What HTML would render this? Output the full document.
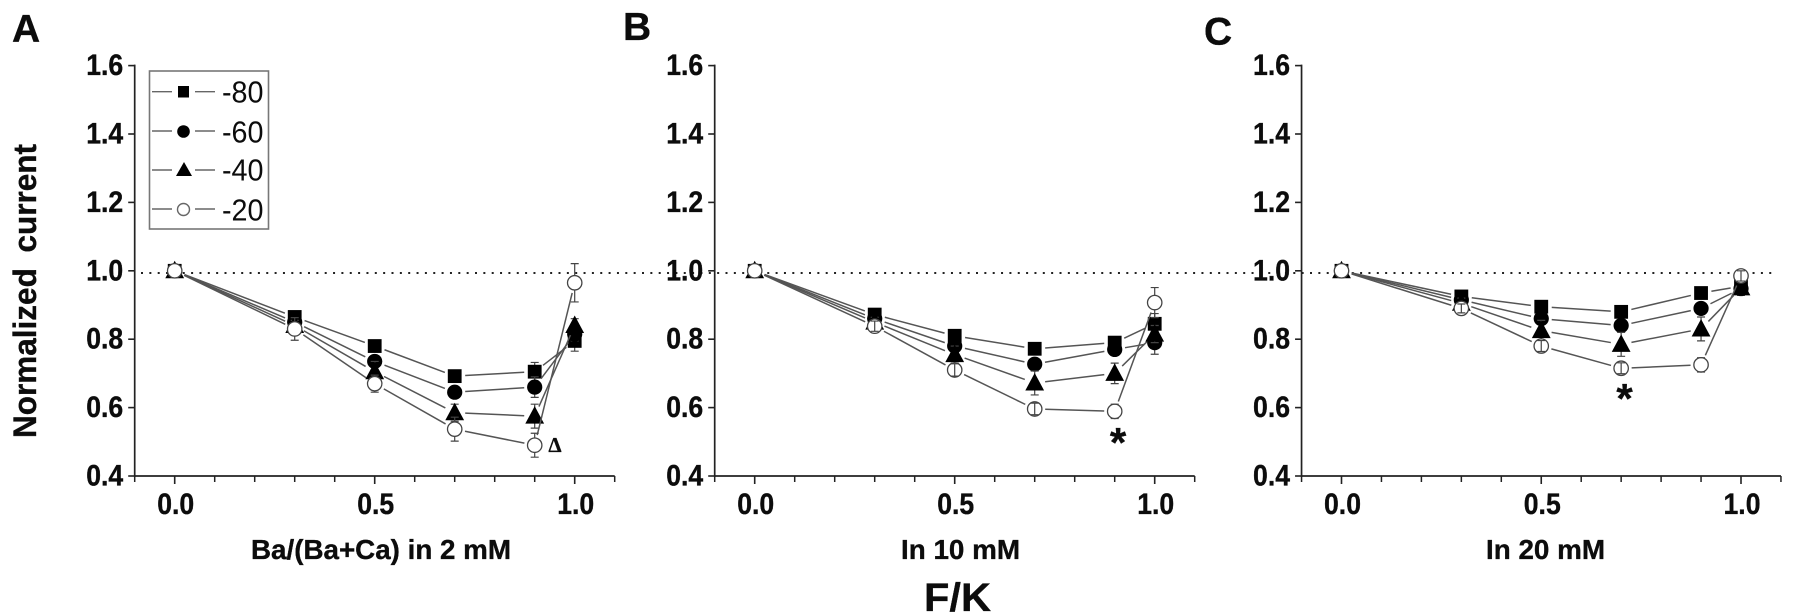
<!DOCTYPE html>
<html lang="en">
<head>
<meta charset="utf-8">
<title>Normalized current vs F/K</title>
<style>
html,body{margin:0;padding:0;background:#fff;width:1795px;height:614px;overflow:hidden}
svg{display:block;font-family:"Liberation Sans",Arial,sans-serif}
text{fill:#0c0c0c}
text[font-weight="700"]{stroke:#0c0c0c;stroke-width:.35px}
</style>
</head>
<body>
<svg id="figure" width="1795" height="614" viewBox="0 0 1795 614" xmlns="http://www.w3.org/2000/svg">
  <line x1="141" y1="273" x2="1772" y2="273" stroke="#222" stroke-width="2" stroke-dasharray="2 6.35"/>
  <g id="plots"></g>

  <text x="12" y="42" font-size="39" font-weight="700">A</text>
  <text x="623" y="40" font-size="39" font-weight="700">B</text>
  <text x="1204" y="44.5" font-size="39" font-weight="700">C</text>

  <text transform="translate(36 291) rotate(-90)" text-anchor="middle" font-size="32" font-weight="700" textLength="294" lengthAdjust="spacingAndGlyphs" style="word-spacing:7px">Normalized current</text>

  <text x="381" y="559" text-anchor="middle" font-size="28" font-weight="700" textLength="260" lengthAdjust="spacingAndGlyphs">Ba/(Ba+Ca) in 2 mM</text>
  <text x="960.5" y="559" text-anchor="middle" font-size="28" font-weight="700" textLength="119" lengthAdjust="spacingAndGlyphs">In 10 mM</text>
  <text x="1545.5" y="559" text-anchor="middle" font-size="28" font-weight="700" textLength="119" lengthAdjust="spacingAndGlyphs">In 20 mM</text>
  <text x="957.5" y="611" text-anchor="middle" font-size="40" font-weight="700" textLength="67" lengthAdjust="spacingAndGlyphs">F/K</text>

  <text x="555" y="452" text-anchor="middle" font-size="21" font-weight="700" style="font-family:'Liberation Serif',serif">Δ</text>
  <text x="1118" y="457" text-anchor="middle" font-size="42" font-weight="700">*</text>
  <text x="1624.5" y="413" text-anchor="middle" font-size="42" font-weight="700">*</text>

  <g>
    <rect x="149.5" y="71" width="119" height="158" fill="#fff" stroke="#777" stroke-width="1.6"/>
    <g>
      <path d="M152 91.7H172M195 91.7H215" stroke="#666" stroke-width="1.4"/>
      <rect x="178" y="86" width="11" height="11.5" fill="#000"/>
      <text x="222" y="102.7" font-size="31" textLength="41.5" lengthAdjust="spacingAndGlyphs">-80</text>
    </g>
    <g>
      <path d="M152 131H172M195 131H215" stroke="#666" stroke-width="1.4"/>
      <circle cx="183.5" cy="131.5" r="6.3" fill="#000"/>
      <text x="222" y="142.3" font-size="31" textLength="41.5" lengthAdjust="spacingAndGlyphs">-60</text>
    </g>
    <g>
      <path d="M184 162L192 176H176Z" fill="#000"/>
      <path d="M152 170H172M195 170H215" stroke="#666" stroke-width="1.4"/>
      <text x="222" y="180.7" font-size="31" textLength="41.5" lengthAdjust="spacingAndGlyphs">-40</text>
    </g>
    <g>
      <path d="M152 209H172M195 209H215" stroke="#666" stroke-width="1.4"/>
      <circle cx="183.5" cy="209.5" r="6" fill="#fff" stroke="#666" stroke-width="1.4"/>
      <text x="222" y="220.7" font-size="31" textLength="41.5" lengthAdjust="spacingAndGlyphs">-20</text>
    </g>
  </g>
</svg>
<script>
// Chart data
var xValues = [0, 0.3, 0.5, 0.7, 0.9, 1.0];
var yTickValues = [0.4, 0.6, 0.8, 1.0, 1.2, 1.4, 1.6];
var yTickLabels = ["0.4", "0.6", "0.8", "1.0", "1.2", "1.4", "1.6"];
var xMinorTicks = [-0.1, 0.1, 0.2, 0.3, 0.4, 0.6, 0.7, 0.8, 0.9, 1.1];
var xMajorTicks = [0, 0.5, 1.0];
var xTickLabels = ["0.0", "0.5", "1.0"];
var seriesNames = ["-80", "-60", "-40", "-20"];

var a80 = [1, 0.865, 0.78, 0.692, 0.705, 0.795];
var a60 = [1, 0.85, 0.735, 0.645, 0.66, 0.815];
var a40 = [1, 0.84, 0.705, 0.585, 0.575, 0.84];
var a20 = [1, 0.83, 0.67, 0.537, 0.49, 0.965];
var a80err = [0, 0.012, 0.012, 0.012, 0.027, 0.03];
var a60err = [0, 0.012, 0.015, 0.014, 0.03, 0.02];
var a40err = [0, 0.015, 0.03, 0.025, 0.035, 0.02];
var a20err = [0, 0.033, 0.025, 0.035, 0.035, 0.056];

var b80 = [1, 0.872, 0.81, 0.772, 0.79, 0.845];
var b60 = [1, 0.86, 0.78, 0.727, 0.77, 0.79];
var b40 = [1, 0.85, 0.755, 0.672, 0.70, 0.815];
var b20 = [1, 0.838, 0.71, 0.596, 0.589, 0.907];
var b80err = [0, 0.01, 0.012, 0.01, 0.012, 0.03];
var b60err = [0, 0.012, 0.012, 0.012, 0.012, 0.034];
var b40err = [0, 0.014, 0.025, 0.035, 0.03, 0.025];
var b20err = [0, 0.015, 0.018, 0.017, 0.021, 0.044];

var c80 = [1, 0.925, 0.895, 0.88, 0.935, 0.955];
var c60 = [1, 0.915, 0.86, 0.84, 0.89, 0.948];
var c40 = [1, 0.905, 0.825, 0.785, 0.83, 0.95];
var c20 = [1, 0.89, 0.78, 0.715, 0.725, 0.985];
var c80err = [0, 0.01, 0.012, 0.012, 0.012, 0.02];
var c60err = [0, 0.012, 0.012, 0.012, 0.012, 0.02];
var c40err = [0, 0.015, 0.03, 0.035, 0.035, 0.02];
var c20err = [0, 0.013, 0.016, 0.016, 0.021, 0.015];

var svgNS = "http://www.w3.org/2000/svg";
var plots = document.getElementById("plots");

function make(parent, tag, attrs) {
  var el = document.createElementNS(svgNS, tag);
  for (var k in attrs) el.setAttribute(k, attrs[k]);
  parent.appendChild(el);
  return el;
}

var yBottom = 476, yPerUnit = 342;
function yScale(v) { return yBottom - (v - 0.4) * yPerUnit; }

var kinds = ["square", "circle", "triangle", "open"];

function drawMarker(parent, kind, cx, cy) {
  var m;
  if (kind === "square") {
    m = make(parent, "rect", {x: cx - 6.9, y: cy - 6.9, width: 13.8, height: 13.8, fill: "#000"});
  } else if (kind === "circle") {
    m = make(parent, "circle", {cx: cx, cy: cy, r: 7.6, fill: "#000"});
  } else if (kind === "triangle") {
    m = make(parent, "path", {d: "M" + cx + " " + (cy - 10) + "L" + (cx + 9.4) + " " + (cy + 7.5) + "H" + (cx - 9.4) + "Z", fill: "#000"});
  } else {
    m = make(parent, "circle", {cx: cx, cy: cy, r: 7.2, fill: "#fff", stroke: "#444", "stroke-width": 1.3});
  }
  return m;
}

function drawPanel(id, x0, pxPerUnit, series, errors) {
  function xScale(v) { return x0 + v * pxPerUnit; }
  var g = make(plots, "g", {});
  
  

  // axes
  var axisLeft = xScale(-0.1), axisRight = xScale(1.1);
  var yAxis = make(g, "line", {x1: axisLeft, x2: axisLeft, y1: yScale(1.6) - 1, y2: yBottom + 1, stroke: "#222", "stroke-width": 1.7});
  
  
  var xAxis = make(g, "line", {x1: axisLeft, x2: axisRight, y1: yBottom, y2: yBottom, stroke: "#222", "stroke-width": 1.7});
  
  

  yTickValues.forEach(function (v, i) {
    var t = make(g, "line", {x1: axisLeft - 6.5, x2: axisLeft, y1: yScale(v), y2: yScale(v), stroke: "#222", "stroke-width": 1.6});
    
    
    var lab = make(g, "text", {x: axisLeft - 11.5, y: yScale(v) + 9.5, "text-anchor": "end", "font-size": 30, "font-weight": 700, textLength: 37, lengthAdjust: "spacingAndGlyphs"});
    lab.textContent = yTickLabels[i];
    
    
  });
  xMinorTicks.forEach(function (v) {
    var t = make(g, "line", {x1: xScale(v), x2: xScale(v), y1: yBottom, y2: yBottom + 6, stroke: "#222", "stroke-width": 1.5});
    
    
  });
  xMajorTicks.forEach(function (v, i) {
    var t = make(g, "line", {x1: xScale(v), x2: xScale(v), y1: yBottom, y2: yBottom + 8, stroke: "#222", "stroke-width": 1.6});
    
    
    var lab = make(g, "text", {x: xScale(v) + 1, y: 514, "text-anchor": "middle", "font-size": 30, "font-weight": 700, textLength: 37, lengthAdjust: "spacingAndGlyphs"});
    lab.textContent = xTickLabels[i];
    
    
  });

  // series
  series.forEach(function (vals, s) {
    var sg = make(g, "g", {});
    
    
    var kind = kinds[s], gap = 10.5;

    // gapped connecting lines
    for (var i = 0; i < vals.length - 1; i++) {
      var ax = xScale(xValues[i]), ay = yScale(vals[i]);
      var bx = xScale(xValues[i + 1]), by = yScale(vals[i + 1]);
      var len = Math.hypot(bx - ax, by - ay);
      var ux = (bx - ax) / len, uy = (by - ay) / len;
      var seg = make(sg, "line", {x1: ax + ux * gap, y1: ay + uy * gap, x2: bx - ux * gap, y2: by - uy * gap, stroke: "#555", "stroke-width": 1.5});
      
      
    }

    // error bars and markers
    vals.forEach(function (v, i) {
      var cx = xScale(xValues[i]), cy = yScale(v);
      var e = errors[s][i] * yPerUnit;
      var open = kind === "open";
      var inner = open && e > 7 ? 7 : 0;
      function whiskers() {
        if (!(e > 0)) return;
        var d = "M" + cx + " " + (cy - inner) + "V" + (cy - e) + "M" + (cx - 4) + " " + (cy - e) + "H" + (cx + 4) +
                "M" + cx + " " + (cy + inner) + "V" + (cy + e) + "M" + (cx - 4) + " " + (cy + e) + "H" + (cx + 4);
        var w = make(sg, "path", {d: d, fill: "none", stroke: "#444", "stroke-width": 1.2});
        
        
      }
      if (!open) whiskers();
      var m = drawMarker(sg, kind, cx, cy);
      
      
      if (open) whiskers();
    });
  });
}

drawPanel("a", 174.7, 400, [a80, a60, a40, a20], [a80err, a60err, a40err, a20err]);
drawPanel("b", 754.7, 400, [b80, b60, b40, b20], [b80err, b60err, b40err, b20err]);
drawPanel("c", 1341.5, 399.5, [c80, c60, c40, c20], [c80err, c60err, c40err, c20err]);
</script>
</body>
</html>
